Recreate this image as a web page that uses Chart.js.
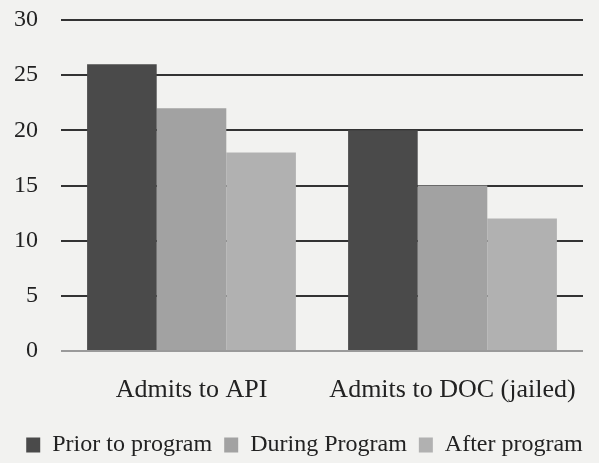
<!DOCTYPE html>
<html lang="en">
<head>
    <meta charset="UTF-8">
    <title>Admits chart</title>
    <script src="https://cdn.jsdelivr.net/npm/chart.js"></script>
    <style>
        body {
            margin: 0;
            background-color: #f2f2f0;
        }
        #wrap {
            width: 599px;
            height: 463px;
        }
    </style>
</head>
<body>
    <div id="wrap"><canvas id="chart" width="599" height="463"></canvas></div>

    <script>
        const categories = ['Admits to API', 'Admits to DOC (jailed)'];
        const seriesNames = ['Prior to program', 'During Program', 'After program'];
        const priorValues = [26, 20];
        const duringValues = [22, 15];
        const afterValues = [18, 12];
        const yTicks = [0, 5, 10, 15, 20, 25, 30];

        const serif = '"Liberation Serif", "Times New Roman", serif';

        new Chart(document.getElementById('chart'), {
            type: 'bar',
            data: {
                labels: categories,
                datasets: [
                    { label: seriesNames[0], data: priorValues, backgroundColor: '#4a4a4a' },
                    { label: seriesNames[1], data: duringValues, backgroundColor: '#a2a2a2' },
                    { label: seriesNames[2], data: afterValues, backgroundColor: '#b1b1b1' }
                ]
            },
            options: {
                responsive: false,
                animation: false,
                layout: { padding: { left: 10, right: 0, top: 0, bottom: -4 } },
                datasets: {
                    bar: { barPercentage: 1.0, categoryPercentage: 0.8 }
                },
                plugins: {
                    legend: {
                        position: 'bottom',
                        labels: {
                            font: { family: serif, size: 24 },
                            color: '#222',
                            boxWidth: 14,
                            boxHeight: 15,
                            padding: 12
                        }
                    },
                    tooltip: { enabled: false }
                },
                scales: {
                    x: {
                        afterFit: scale => {
                            scale.height = 70;
                            scale.paddingLeft = 0;
                            scale.paddingRight = 0;
                        },
                        grid: { display: false, drawTicks: false },
                        border: { display: false },
                        ticks: {
                            font: { family: serif, size: 26 },
                            color: '#222',
                            padding: 24
                        }
                    },
                    y: {
                        min: 0,
                        max: 30,
                        afterFit: scale => {
                            scale.width = 51;
                            scale.paddingTop = 20;
                            scale.paddingBottom = 0;
                        },
                        afterBuildTicks: axis => {
                            axis.ticks = yTicks.map(v => ({ value: v }));
                        },
                        border: { display: false },
                        grid: {
                            drawTicks: false,
                            lineWidth: 2,
                            color: ctx => ctx.tick && ctx.tick.value === 0 ? '#9a9a9a' : '#333'
                        },
                        ticks: {
                            font: { family: serif, size: 24 },
                            color: '#222',
                            padding: 23
                        }
                    },
                    // empty strip on the right so the grid stops short of the edge
                    yRight: {
                        position: 'right',
                        afterFit: scale => {
                            scale.width = 16;
                            scale.paddingTop = 0;
                            scale.paddingBottom = 0;
                        },
                        grid: { display: false, drawTicks: false },
                        border: { display: false },
                        ticks: { display: false }
                    }
                }
            }
        });
    </script>
</body>
</html>
